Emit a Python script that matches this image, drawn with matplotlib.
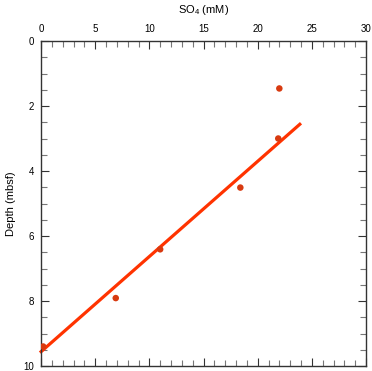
#!/usr/bin/env python3
import numpy as np
import matplotlib
matplotlib.use('Agg')
import matplotlib.pyplot as plt
from matplotlib.ticker import MultipleLocator

plt.rcParams['font.family'] = ['Liberation Sans', 'DejaVu Sans']
plt.rcParams['mathtext.fontset'] = 'custom'
plt.rcParams['mathtext.rm'] = 'Liberation Sans'

# SO4 measurements
so4 = [22.0, 21.9, 18.4, 11.0, 6.9, 0.2]
depth = [1.46, 3.0, 4.51, 6.41, 7.91, 9.4]

# regression line end points
line_so4 = [-0.1, 24.0]
line_depth = [9.59, 2.53]

fig = plt.figure(figsize=(3.72, 3.71), dpi=100)
ax = fig.add_axes([41 / 372, 5 / 371, 325 / 372, 325 / 371])

ax.plot(line_so4, line_depth, color='#FF3300', lw=2.3, solid_capstyle='butt', clip_on=False, zorder=2)
ax.scatter(so4, depth, s=22, color='#D83A10', edgecolors='none', zorder=3)

ax.set_xlim(0, 30)
ax.set_ylim(10, 0)
ax.xaxis.set_major_locator(MultipleLocator(5))
ax.xaxis.set_minor_locator(MultipleLocator(1))
ax.yaxis.set_major_locator(MultipleLocator(2))
ax.yaxis.set_minor_locator(MultipleLocator(0.5))
ax.xaxis.tick_top()
ax.xaxis.set_label_position('top')
ax.tick_params(which='both', direction='in', top=True, bottom=True, left=True, right=True,
               labelsize=7, width=0.8, color='#333333')
ax.tick_params(which='major', length=6, pad=5)
ax.tick_params(which='minor', length=4, color='#777777')
for s in ax.spines.values():
    s.set_linewidth(1.0)
    s.set_color('#333333')

ax.set_xlabel('SO$_\\mathrm{4}$ (mM)', fontsize=8, labelpad=8)
ax.set_ylabel('Depth (mbsf)', fontsize=8, labelpad=5)

fig.savefig('out.png', dpi=100)
